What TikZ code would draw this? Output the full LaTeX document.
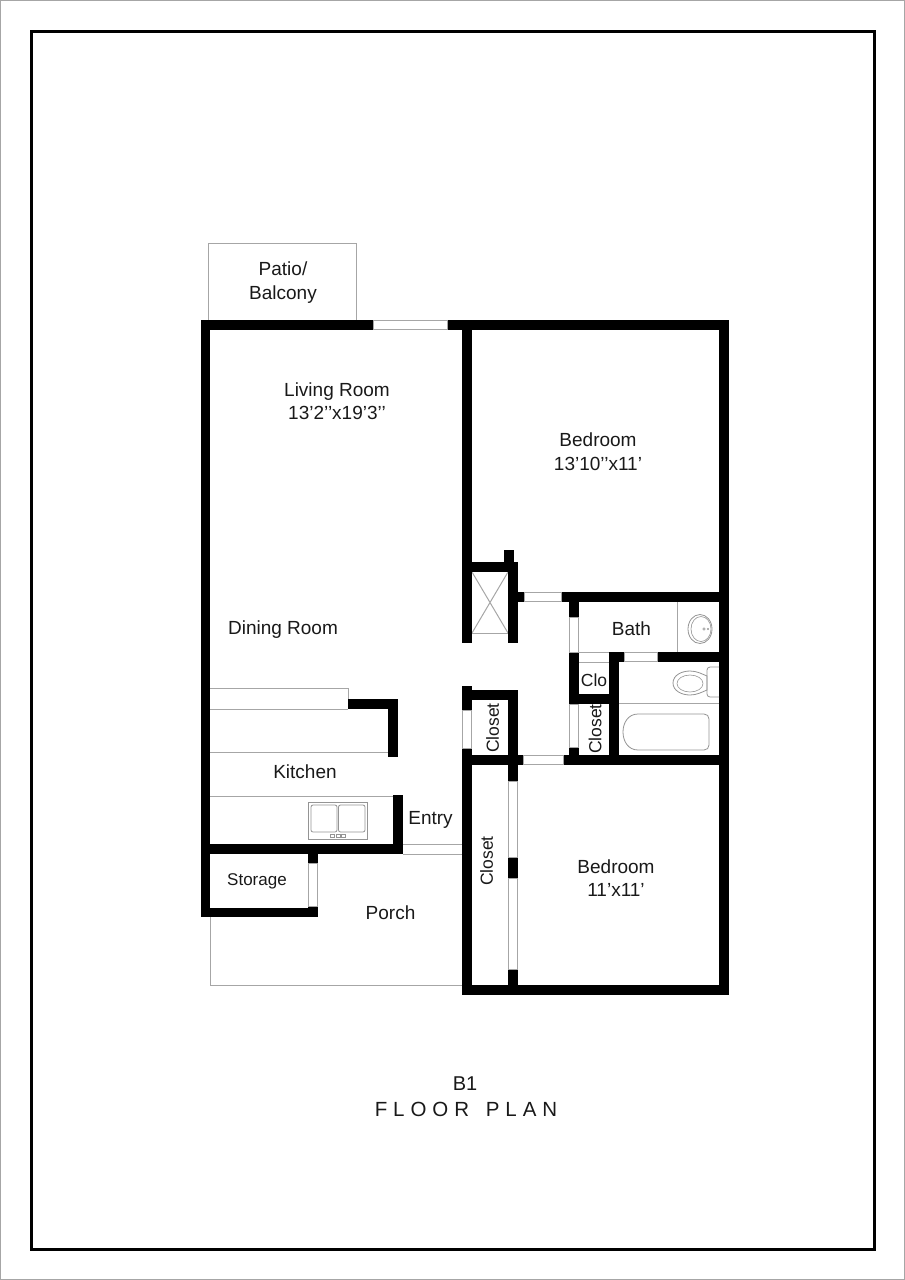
\documentclass[tikz,border=0pt]{standalone}
\usepackage{fontspec}
\setmainfont{Liberation Sans}
\newfontfamily\spaced[LetterSpace=29]{Liberation Sans}
\tikzset{
  wall/.style={fill=black,draw=none},
  thin line/.style={draw=black!35,line width=1pt},
  fixture/.style={draw=black!42,line width=0.8pt},
  opening/.style={fill=white,draw=black!35,line width=1pt},
  label/.style={inner sep=0pt,align=center,text=black!90,font=\fontsize{19}{23.5}\selectfont},
  small label/.style={label,font=\fontsize{17.5}{21}\selectfont},
}
\begin{document}
\begin{tikzpicture}[x=1pt,y=-1pt]
\useasboundingbox (0,0) rectangle (905,1280);
\draw[draw=black!35,line width=1pt] (0.5,0.5) rectangle (904.5,1279.5);
\draw[line width=3pt] (31,31) rectangle (874.7,1249.5);
% light outlines
\draw[thin line] (208,320) -- (208,243) -- (356,243) -- (356,320);
\draw[thin line] (210,917) -- (210,985) -- (462,985);
\draw[thin line] (348,699) -- (348,688) -- (210,688);
\draw[thin line] (210,709) -- (348,709);
\draw[thin line] (210,752) -- (388,752);
\draw[thin line] (210,796) -- (393,796);
\draw[thin line] (403,844) -- (462,844);
\draw[thin line] (403,854) -- (462,854);
\draw[thin line] (472,572) -- (508,633) (508,572) -- (472,633);
\draw[thin line] (472,633) -- (508,633);
\draw[thin line] (677,602) -- (677,652);
\draw[thin line] (579,652.5) -- (609,652.5);
\draw[thin line] (579,662) -- (609,662);
\draw[thin line] (619,703) -- (719,703);
% walls
\fill[wall] (201,320) rectangle (373,330);
\fill[wall] (447,320) rectangle (729,330);
\fill[wall] (201,320) rectangle (210,917);
\fill[wall] (719,320) rectangle (729,995);
\fill[wall] (462,320) rectangle (472,643);
\fill[wall] (462,562) rectangle (518,572);
\fill[wall] (504,550) rectangle (514,562);
\fill[wall] (508,562) rectangle (518,643);
\fill[wall] (518,592) rectangle (524,602);
\fill[wall] (561,592) rectangle (729,602);
\fill[wall] (569,602) rectangle (579,617);
\fill[wall] (569,652) rectangle (579,704);
\fill[wall] (569,694) rectangle (619,704);
\fill[wall] (609,652) rectangle (619,765);
\fill[wall] (609,652) rectangle (624,662);
\fill[wall] (657,652) rectangle (729,662);
\fill[wall] (569,747) rectangle (579,765);
\fill[wall] (563,755) rectangle (729,765);
\fill[wall] (462,755) rectangle (523,765);
\fill[wall] (462,686) rectangle (472,710);
\fill[wall] (462,690) rectangle (518,700);
\fill[wall] (508,690) rectangle (518,781);
\fill[wall] (462,748) rectangle (472,995);
\fill[wall] (508,857) rectangle (518,878);
\fill[wall] (508,969) rectangle (518,995);
\fill[wall] (462,985) rectangle (729,995);
\fill[wall] (348,699) rectangle (398,709);
\fill[wall] (388,699) rectangle (398,757);
\fill[wall] (393,795) rectangle (403,854);
\fill[wall] (210,844) rectangle (403,854);
\fill[wall] (308,854) rectangle (318,863);
\fill[wall] (308,906) rectangle (318,917);
\fill[wall] (201,908) rectangle (318,917);
% openings
\draw[opening] (373,320.5) rectangle (447,329.5);
\draw[opening] (524,592.5) rectangle (561,601.5);
\draw[opening] (569.5,617) rectangle (578.5,652);
\draw[opening] (624,652.5) rectangle (657,661.5);
\draw[opening] (569.5,704) rectangle (578.5,747);
\draw[opening] (523,755.5) rectangle (563,764.5);
\draw[opening] (462.5,710) rectangle (471.5,748);
\draw[opening] (508.5,781) rectangle (517.5,857);
\draw[opening] (508.5,878) rectangle (517.5,969);
\draw[opening] (308.5,863) rectangle (317.5,906);
% kitchen sink
\draw[fixture] (308,802) rectangle (367,839);
\draw[fixture,rounded corners=2pt] (311,805) rectangle (337,832);
\draw[fixture,rounded corners=2pt] (338.5,805) rectangle (365,832);
\draw[fixture,line width=0.6pt] (330,834.5) rectangle (334.5,837.5);
\draw[fixture,line width=0.6pt] (336,834.5) rectangle (340,837.5);
\draw[fixture,line width=0.6pt] (341.5,834.5) rectangle (345.5,837.5);
% bath sink
\draw[fixture] (700,629) ellipse [x radius=12,y radius=14.5];
\draw[fixture,line width=0.6pt] (701,629) ellipse [x radius=10,y radius=12.5];
\draw[fixture,line width=0.5pt] (704,629) circle (1.2) (708,629) circle (0.8);
% toilet
\draw[fixture] (673,683) .. controls (673,675) and (682,671) .. (690,671) .. controls (697,671) and (702,674) .. (707,676) -- (707,690) .. controls (702,692) and (697,695) .. (690,695) .. controls (682,695) and (673,691) .. (673,683) -- cycle;
\draw[fixture,line width=0.6pt] (690,683.5) ellipse [x radius=13,y radius=8.5];
\draw[fixture,rounded corners=3pt] (719,667) -- (707,667) -- (707,697) -- (719,697);
% tub
\draw[fixture] (704,714) -- (638,714) .. controls (628,714) and (623,723) .. (623,732) .. controls (623,741) and (628,750) .. (638,750) -- (704,750) .. controls (707,750) and (709,748) .. (709,745) -- (709,719) .. controls (709,716) and (707,714) .. (704,714) -- cycle;
% labels
\node[label,font=\fontsize{19}{24}\selectfont] (patio) at (283,283) {Patio/\\Balcony};
\node[label] (living) at (337,401) {Living Room\\13’2’’x19’3’’};
\node[label] (bed1) at (598,451.5) {Bedroom\\13’10’’x11’};
\node[label] (dining) at (283,630) {Dining Room};
\node[label] (bath) at (631.5,628.5) {Bath};
\node[small label] (clo) at (594,680) {Clo};
\node[small label,rotate=90] (closeta) at (492.5,728) {Closet};
\node[small label,rotate=90] (closetb) at (595,729) {Closet};
\node[small label,rotate=90] (closetc) at (486.5,861) {Closet};
\node[label] (kitchen) at (305,771.5) {Kitchen};
\node[label] (entry) at (430.5,820) {Entry};
\node[small label,font=\fontsize{17}{20}\selectfont] (storage) at (257,881.5) {Storage};
\node[label] (porch) at (390.5,912.5) {Porch};
\node[label] (bed2) at (616,878) {Bedroom\\11’x11’};
\node[label,font=\fontsize{20}{24}\selectfont] (b1) at (465,1084) {B1};
\node[label,font=\fontsize{20.5}{24}\spaced] (plan) at (466,1109) {FLOOR\hspace{5pt} PLAN};
\end{tikzpicture}
\end{document}
